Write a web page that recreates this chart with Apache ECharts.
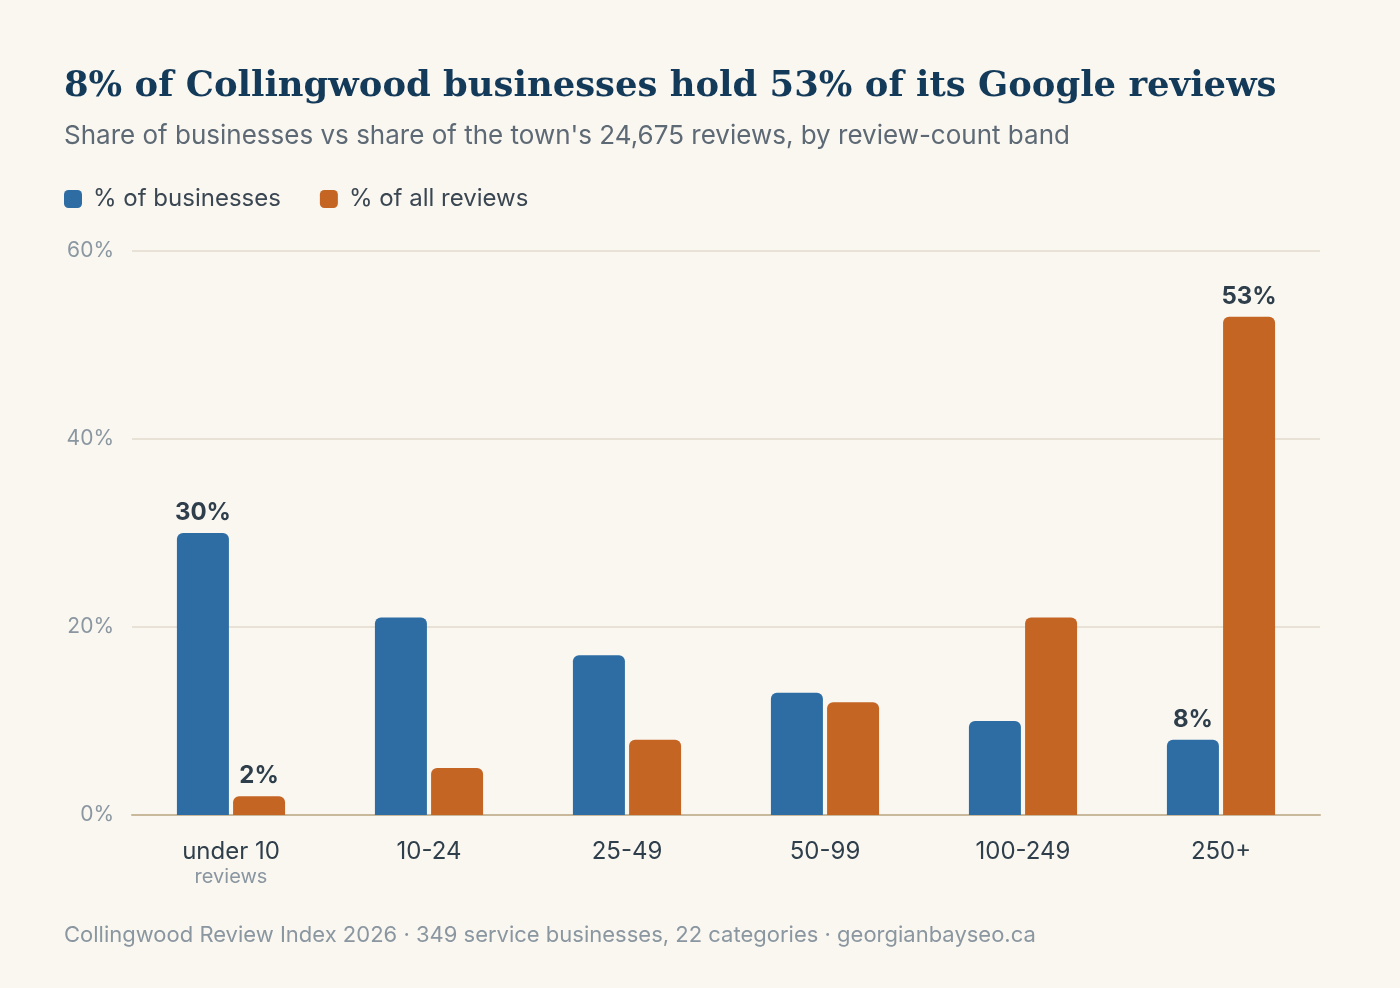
<!DOCTYPE html>
<html>
<head>
<meta charset="utf-8">
<script src="https://cdn.jsdelivr.net/npm/echarts@6/dist/echarts.min.js"></script>
<style>
  html, body { margin: 0; padding: 0; background: #faf7f1; }
  #chart { width: 1400px; height: 988px; }
</style>
</head>
<body>
<div id="chart"></div>
<script>
  const categories = ['under 10', '10-24', '25-49', '50-99', '100-249', '250+'];
  const businessShare = [30, 21, 17, 13, 10, 8];
  const reviewShare = [2, 5, 8, 12, 21, 53];
  // only these bars carry a value label
  const businessLabelled = [0, 5];
  const reviewLabelled = [0, 5];
  const yTicks = [0, 20, 40, 60];

  const BLUE = '#2e6da4';
  const ORANGE = '#c46524';
  const SANS = 'Inter, "Noto Sans", sans-serif';

  const chart = echarts.init(document.getElementById('chart'));

  const labelStyle = {
    show: true,
    position: 'top',
    distance: 8,
    formatter: '{c}%',
    color: '#2f3e4b',
    fontFamily: SANS,
    fontWeight: 'bold',
    fontSize: 24,
  };

  function toData(values, labelled) {
    return values.map((v, i) => ({
      value: v,
      label: labelled.includes(i) ? labelStyle : { show: false },
    }));
  }

  const option = {
    backgroundColor: '#faf7f1',
    animation: false,
    title: [
      {
        text: '8% of Collingwood businesses hold 53% of its Google reviews',
        left: 64,
        top: 69,
        padding: 0,
        textStyle: {
          fontFamily: '"DejaVu Serif", serif',
          fontWeight: 'bold',
          fontSize: 35.4,
          color: '#143a5a',
        },
      },
      {
        text: "Share of businesses vs share of the town's 24,675 reviews, by review-count band",
        left: 64,
        top: 123,
        padding: 0,
        textStyle: {
          fontFamily: SANS,
          fontWeight: 'normal',
          fontSize: 26,
          color: '#5d6974',
        },
      },
      {
        text: 'Collingwood Review Index 2026 · 349 service businesses, 22 categories · georgianbayseo.ca',
        left: 64,
        top: 924,
        padding: 0,
        textStyle: {
          fontFamily: SANS,
          fontWeight: 'normal',
          fontSize: 22,
          color: '#8a96a0',
        },
      },
    ],
    legend: {
      left: 64,
      top: 187,
      padding: 0,
      icon: 'roundRect',
      itemWidth: 18,
      itemHeight: 18,
      itemGap: 39,
      textStyle: {
        fontFamily: SANS,
        fontSize: 24,
        color: '#3a4651',
        padding: [0, 0, 0, 6],
      },
    },
    grid: {
      left: 132,
      right: 80,
      top: 251,
      bottom: 173,
    },
    xAxis: {
      type: 'category',
      data: categories,
      axisTick: { show: false },
      axisLine: { lineStyle: { color: '#c9b99c', width: 2 } },
      axisLabel: {
        interval: 0,
        margin: 24,
        fontFamily: SANS,
        fontSize: 24,
        color: '#2f3e4b',
        lineHeight: 26,
        formatter: (v) => (v === 'under 10' ? v + '\n{sub|reviews}' : v),
        rich: {
          sub: {
            fontFamily: SANS,
            fontSize: 20,
            color: '#8a96a0',
            lineHeight: 24,
          },
        },
      },
    },
    yAxis: {
      type: 'value',
      min: yTicks[0],
      max: yTicks[yTicks.length - 1],
      interval: 20,
      axisLine: { show: false },
      axisTick: { show: false },
      splitLine: { lineStyle: { color: '#e8e1d5', width: 2 } },
      axisLabel: {
        margin: 18,
        formatter: '{value}%',
        fontFamily: SANS,
        fontSize: 21,
        color: '#8a96a0',
      },
    },
    series: [
      {
        name: '% of businesses',
        type: 'bar',
        barWidth: 52,
        barGap: '8%',
        itemStyle: { color: BLUE, borderRadius: [6, 6, 0, 0] },
        data: toData(businessShare, businessLabelled),
      },
      {
        name: '% of all reviews',
        type: 'bar',
        barWidth: 52,
        barGap: '8%',
        itemStyle: { color: ORANGE, borderRadius: [6, 6, 0, 0] },
        data: toData(reviewShare, reviewLabelled),
      },
    ],
  };

  chart.setOption(option);
</script>
</body>
</html>
